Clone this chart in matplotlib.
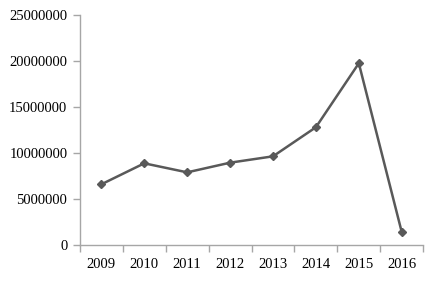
import matplotlib

matplotlib.use("Agg")
import matplotlib.pyplot as plt
import numpy as np

# Данные графика
years = ["2009", "2010", "2011", "2012", "2013", "2014", "2015", "2016"]
values = [6600000, 8880000, 7900000, 8950000, 9640000, 12800000, 19750000, 1410000]
y_ticks = [0, 5000000, 10000000, 15000000, 20000000, 25000000]

plt.rcParams["font.family"] = ["Liberation Serif", "DejaVu Serif"]

fig = plt.figure(figsize=(4.39, 2.82), dpi=100)
ax = fig.add_axes([0.182, 0.131, 0.782, 0.816])

x = np.arange(len(years))
ax.plot(x, values, color="#595959", linewidth=1.8, marker="D", markersize=4.5,
        markerfacecolor="#595959", markeredgecolor="#595959")

ax.set_xlim(-0.5, len(years) - 0.5)
ax.set_ylim(0, 25000000)
ax.set_yticks(y_ticks)
ax.set_yticklabels([str(v) for v in y_ticks])

# Подписи по центру категорий, засечки на границах
ax.set_xticks(x)
ax.set_xticklabels(years)
ax.set_xticks(np.arange(-0.5, len(years), 1.0), minor=True)
ax.tick_params(axis="x", which="major", length=0, pad=9, labelsize=10.5)
ax.tick_params(axis="x", which="minor", length=5, color="#A6A6A6", width=1)
ax.tick_params(axis="y", length=5, color="#A6A6A6", width=1, labelsize=10.5, pad=4)

for side in ["top", "right"]:
    ax.spines[side].set_visible(False)
for side in ["left", "bottom"]:
    ax.spines[side].set_color("#A6A6A6")
    ax.spines[side].set_linewidth(1)

fig.savefig("out.png", dpi=100)
